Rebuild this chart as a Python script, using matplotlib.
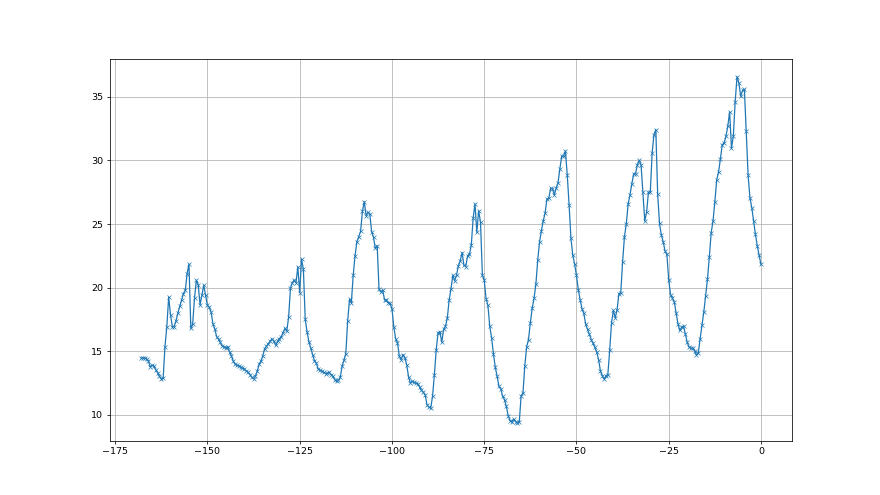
# -*- coding: utf-8 -*-
"""
temperature over the last week, sampled every half hour
"""
import numpy as np
import matplotlib
matplotlib.use('Agg')
import matplotlib.pyplot as plt

# hours before now, one sample every 30 minutes
HOURS = np.arange(-168, 0.5, 0.5)

DAY_1 = [
    14.47, 14.47, 14.47, 14.4, 14.23, 13.78, 13.89, 13.84, 13.52, 13.31,
    13.04, 12.83, 12.88, 15.37, 16.93, 19.26, 17.86, 16.93, 16.93, 17.41,
    18.02, 18.52, 19.0, 19.52, 19.79, 21.11, 21.85, 16.8, 17.14, 19.18,
    20.58, 20.24, 18.65, 19.39, 20.19, 19.39, 18.6, 18.47, 18.07, 17.14,
    16.75, 16.14, 15.95, 15.69, 15.42, 15.35, 15.29, 15.37, 14.95, 14.63,
    14.23, 13.97, 13.9, 13.84, 13.78, 13.65, 13.62, 13.44, 13.36, 13.17,
    12.96, 12.83, 13.04, 13.44, 13.97, 14.23, 14.63, 15.2]

DAY_2 = [
    15.39, 15.6, 15.79, 15.97, 15.79, 15.47, 15.79, 16.0, 16.13, 16.45,
    16.79, 16.58, 17.68, 19.95, 20.39, 20.6, 20.39, 21.63, 19.6, 22.24,
    21.45, 17.5, 16.53, 15.74, 15.26, 14.74, 14.26, 14.08, 13.61, 13.5,
    13.42, 13.34, 13.24, 13.29, 13.34, 13.16, 13.03, 12.76, 12.63, 12.71,
    12.97, 13.82, 14.3, 14.82, 17.37, 19.08, 18.82, 20.97, 22.5, 23.61,
    24.0, 24.42, 26.0, 26.76, 25.66, 25.92, 25.79, 24.39, 23.95, 23.08,
    23.29, 19.87, 19.66, 19.82, 19.03, 19.03, 18.82]

DAY_3 = [
    18.76, 18.34, 16.92, 15.97, 15.66, 14.61, 14.34, 14.74, 14.47, 13.95,
    12.97, 12.5, 12.63, 12.55, 12.5, 12.45, 12.18, 11.92, 11.79, 11.58,
    10.79, 10.61, 10.53, 11.45, 13.16, 15.13, 16.45, 16.53, 15.71, 16.71,
    16.97, 17.6, 19.03, 19.92, 20.97, 20.53, 21.0, 21.71, 22.11, 22.76,
    21.76, 21.66, 22.5, 22.63, 23.34, 25.45, 26.58, 24.34, 26.05, 25.13,
    20.97, 20.61, 19.13, 18.61, 16.97, 16.05, 14.79, 13.74, 13.03, 12.24,
    12.03, 11.45, 11.18, 10.66, 9.92, 9.55, 9.47, 9.66]

DAY_4 = [
    9.47, 9.34, 9.42, 11.5, 11.71, 13.87, 15.34, 15.92, 17.24, 18.37,
    19.16, 20.26, 22.16, 23.61, 24.47, 25.26, 25.87, 26.97, 27.03, 27.82,
    27.76, 27.29, 27.82, 28.24, 29.34, 30.34, 30.34, 30.74, 28.87, 26.5,
    23.87, 22.55, 21.84, 20.97, 19.82, 19.03, 18.34, 17.97, 17.11, 16.71,
    16.32, 15.92, 15.61, 15.3, 14.92, 14.34, 13.42, 13.08, 12.82, 13.08,
    13.16, 15.08, 17.24, 18.21, 17.63, 18.24, 19.53, 19.61, 22.03, 24.0,
    25.0, 26.58, 27.29, 28.16, 28.95, 28.95, 29.66, 30.0]

DAY_5 = [
    29.66, 27.5, 25.24, 25.92, 27.5, 27.5, 30.58, 32.03, 32.42, 27.34,
    25.05, 24.13, 23.61, 22.87, 22.61, 20.58, 19.45, 19.18, 18.87, 18.03,
    17.16, 16.63, 16.89, 16.97, 16.37, 15.71, 15.32, 15.24, 15.26, 15.05,
    14.71, 14.84, 15.97, 17.03, 18.08, 19.34, 20.66, 22.42, 24.32, 25.24,
    26.76, 28.47, 29.08, 30.11, 31.24, 31.37, 31.89, 32.68, 33.82, 30.97,
    31.89, 34.61, 36.58, 36.11, 35.05, 35.5, 35.58, 32.29, 28.87, 27.08,
    26.29, 25.24, 24.18, 23.26, 22.55, 21.82]

TEMPERATURE = DAY_1 + DAY_2 + DAY_3 + DAY_4 + DAY_5
assert len(TEMPERATURE) == len(HOURS)

fig = plt.figure(figsize=(12.8, 7.2), dpi=68.75)
plt.plot(HOURS, TEMPERATURE, marker='x', color='C0',
         linewidth=1.3, markersize=5, markeredgewidth=0.7)
plt.grid(True)
plt.savefig('out.png', dpi=68.75)
